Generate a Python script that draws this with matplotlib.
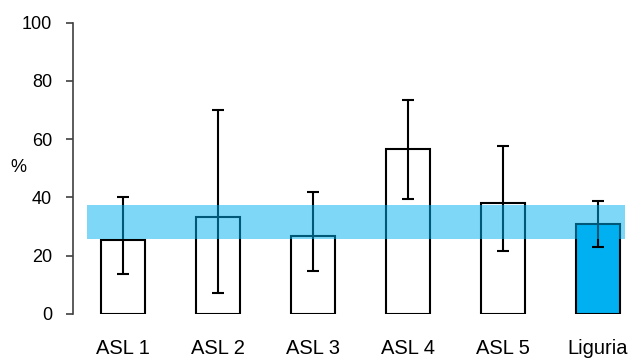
import numpy as np
import matplotlib.pyplot as plt

plt.rcParams['font.family'] = ['Liberation Sans', 'DejaVu Sans']

labels = ['ASL 1', 'ASL 2', 'ASL 3', 'ASL 4', 'ASL 5', 'Liguria']
values = [25.3, 33.3, 26.7, 56.7, 38.2, 31.0]
upper = [40.1, 69.9, 41.9, 73.5, 57.6, 38.8]
lower = [13.8, 7.2, 14.6, 39.4, 21.6, 23.0]
band_low, band_high = 25.7, 37.3

fig = plt.figure(figsize=(6.31, 3.59), dpi=100)
ax = fig.add_axes([73/631, 45/359, 558/631, 291.5/359])

x = np.arange(len(labels))
colors = ['white'] * (len(labels) - 1) + ['#00B0F0']
yerr = [np.array(values) - np.array(lower), np.array(upper) - np.array(values)]

ax.bar(x, values, 0.47, color=colors, edgecolor='black', linewidth=1.5, zorder=2)
ax.errorbar(x, values, yerr=yerr, fmt='none', ecolor='black', elinewidth=1.5,
            capsize=4.5, capthick=1.5, zorder=3)

# regional confidence band drawn over the bars
ax.fill_between([-0.379, 5.284], band_low, band_high, color='#00B0F0', alpha=0.5,
                linewidth=0, zorder=4)

ax.set_xlim(-0.526, 5.347)
ax.set_ylim(0, 100)
ax.set_yticks(range(0, 101, 20))
ax.set_xticks(x, labels)

for s in ['top', 'right', 'bottom']:
    ax.spines[s].set_visible(False)
ax.spines['left'].set_color('#404040')
ax.spines['left'].set_linewidth(1.2)

ax.tick_params(axis='x', length=0, pad=18, labelsize=14.5)
ax.tick_params(axis='y', length=5, width=1.2, color='#404040', pad=10, labelsize=13)
fig.text(18/631, 1 - 168/359, '%', fontsize=13, ha='center', va='center')

plt.savefig('out.png', dpi=100)
plt.close()
